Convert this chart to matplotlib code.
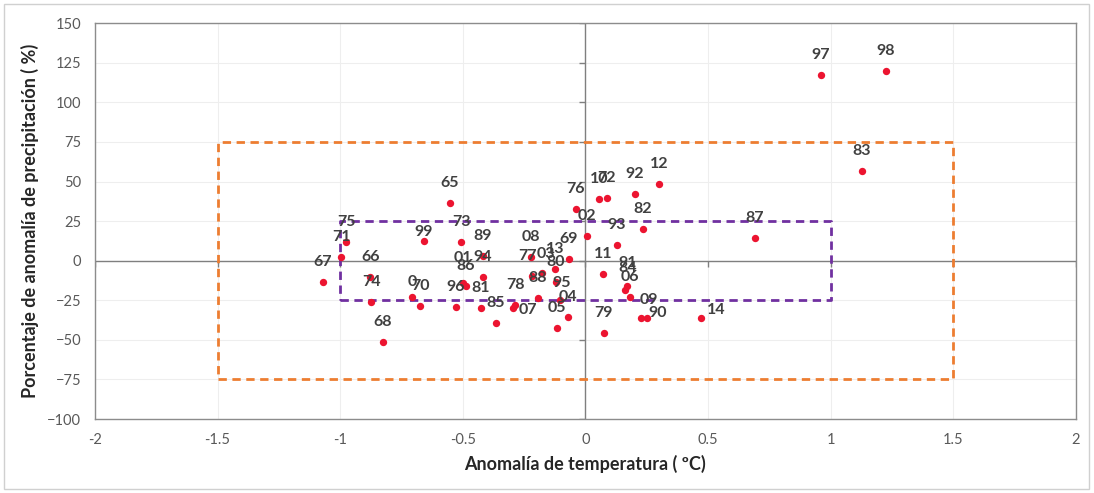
import matplotlib.pyplot as plt
from matplotlib.patches import Rectangle

# Data (temperature anomaly, precipitation anomaly %)
years = ['65', '66', '67', '68', '69', '70', '71', '72', '73', '74',
         '75', '76', '77', '78', '79', '80', '81', '82', '83', '84',
         '85', '86', '87', '88', '89', '90', '91', '92', '93', '94',
         '95', '96', '97', '98', '99', '0', '01', '02', '03', '04',
         '05', '06', '07', '08', '09', '10', '11', '12', '13', '14']
temp = [-0.552, -0.878, -1.070, -0.825, -0.067, -0.674, -0.996, 0.088, -0.507, -0.874,
        -0.976, -0.039, -0.218, -0.287, 0.075, -0.120, -0.426, 0.234, 1.127, 0.161,
        -0.365, -0.487, 0.691, -0.194, -0.418, 0.251, 0.169, 0.202, 0.128, -0.418,
        -0.104, -0.528, 0.960, 1.224, -0.658, -0.707, -0.499, 0.006, -0.177, -0.071,
        -0.116, 0.181, -0.295, -0.222, 0.226, 0.055, 0.071, 0.300, -0.124, 0.470]
precip = [36.4, -10.4, -13.5, -51.4, 1.0, -28.7, 2.3, 39.5, 11.7, -26.1,
          11.7, 32.6, -9.7, -28.0, -45.7, -13.5, -29.9, 19.9, 56.6, -18.6,
          -39.4, -16.0, 14.3, -23.6, 2.9, -36.2, -16.0, 42.0, 9.8, -10.4,
          -24.9, -29.3, 117.2, 119.7, 12.4, -23.0, -14.1, 15.5, -7.8, -35.8,
          -42.7, -23.0, -29.9, 2.3, -36.2, 38.9, -8.5, 48.4, -5.3, -36.2]

outer_box = (-1.5, 1.5, -75, 75)
inner_box = (-1.0, 1.0, -25, 25)

xticks = [-2, -1.5, -1, -0.5, 0, 0.5, 1, 1.5, 2]
yticks = [-100, -75, -50, -25, 0, 25, 50, 75, 100, 125, 150]

# label placement tweaks (pixels), default is straight above the point
label_offsets = {'99': (0, 9), '0': (0, 15), '07': (15, -2), '14': (16, 8),
                 '90': (11, 5), '09': (8, 18), '95': (2, 17), '01': (0, 25),
                 '91': (1, 23), '84': (3, 22), '03': (4, 19), '77': (-4, 20)}

plt.rcParams['font.family'] = ['Lato', 'DejaVu Sans']

fig = plt.figure(figsize=(10.94, 4.93), dpi=100)
ax = fig.add_axes([0.0868, 0.150, 0.8967, 0.803])

ax.set_xlim(-2, 2)
ax.set_ylim(-100, 150)
ax.set_xticks(xticks)
ax.set_yticks(yticks)
ax.set_xticklabels([f'{t:g}' for t in xticks])
ax.grid(color='#eeeeee', lw=0.8)
ax.set_axisbelow(True)
ax.tick_params(length=0, labelsize=10.5, colors='#595959', pad=10)
for s in ax.spines.values():
    s.set_color('#8c8c8c')
    s.set_linewidth(1)

# axes crossing at zero, with small tick marks
ax.axhline(0, color='#7f7f7f', lw=1, zorder=1)
ax.axvline(0, color='#7f7f7f', lw=1, zorder=1)
ax.plot(xticks, [0] * len(xticks), ls='none', marker=3, ms=4, color='#7f7f7f', mew=1)
ax.plot([0] * len(yticks), yticks, ls='none', marker=0, ms=4, color='#7f7f7f', mew=1)

# dashed boxes
for (x0, x1, y0, y1), col in [(outer_box, '#ed7d31'), (inner_box, '#7030a0')]:
    ax.plot([x0, x1, x1, x0, x0], [y0, y0, y1, y1, y0], color=col, lw=2,
            ls=(0, (3, 2)), zorder=2)

ax.scatter(temp, precip, s=28, color='#ec1430', zorder=3, linewidths=0)

for x, y, lab in zip(temp, precip, years):
    dx, dy = label_offsets.get(lab, (0, 20))
    ax.annotate(lab, (x, y), xytext=(dx, dy), textcoords='offset pixels',
                ha='center', va='center', fontsize=11.5, fontweight='bold',
                color='#404040', zorder=4)

ax.set_xlabel('Anomalía de temperatura ( ºC)', fontsize=13, fontweight='bold',
              color='#262626', labelpad=6)
ax.set_ylabel('Porcentaje de anomalía de precipitación ( %)', fontsize=13,
              fontweight='bold', color='#262626', labelpad=6)

fig.patches.append(Rectangle((0.004, 0.008), 0.991, 0.984, transform=fig.transFigure,
                             fill=False, edgecolor='#d0d0d0', lw=1))

fig.savefig('out.png', dpi=100)
